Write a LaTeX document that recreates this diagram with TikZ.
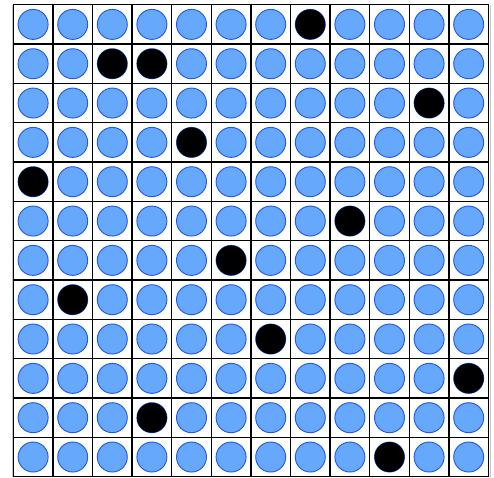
\documentclass[tikz,border=0pt]{standalone}
\definecolor{dotblue}{RGB}{102,168,252}
\definecolor{rimblue}{RGB}{38,88,235}
\definecolor{edgegray}{RGB}{190,200,200}
\begin{document}
\begin{tikzpicture}[x=0.03cm,y=-0.03cm,
  cellline/.style={line width=1.3pt,black},
  bluedot/.style={fill=dotblue,draw=rimblue,line width=0.8pt},
  blackdot/.style={fill=black,draw=black,line width=0.8pt}]
\useasboundingbox (0,0) rectangle (494,478);
% faint outer edges
\draw[edgegray,line width=0.8pt] (12,4.7) -- (12,476.7);
\draw[edgegray,line width=0.8pt] (490.7,4.7) -- (490.7,476.7);
% dots
\foreach \r in {0,...,11}
  \foreach \c in {0,...,11}
    \filldraw[bluedot] (33.1+39.6*\c,24.4+39.33*\r) circle (15);
\foreach \c/\r in {7/0,2/1,3/1,10/2,4/3,0/4,8/5,5/6,1/7,6/8,11/9,3/10,9/11}
  \filldraw[blackdot] (33.1+39.6*\c,24.4+39.33*\r) circle (14.5);
% grid
\foreach \i in {0,...,12}
  \draw[cellline] (13.3+39.6*\i,4.7) -- (13.3+39.6*\i,476.7);
\foreach \i in {0,...,12}
  \draw[cellline] (13.3,4.7+39.33*\i) -- (488.5,4.7+39.33*\i);
\end{tikzpicture}
\end{document}
